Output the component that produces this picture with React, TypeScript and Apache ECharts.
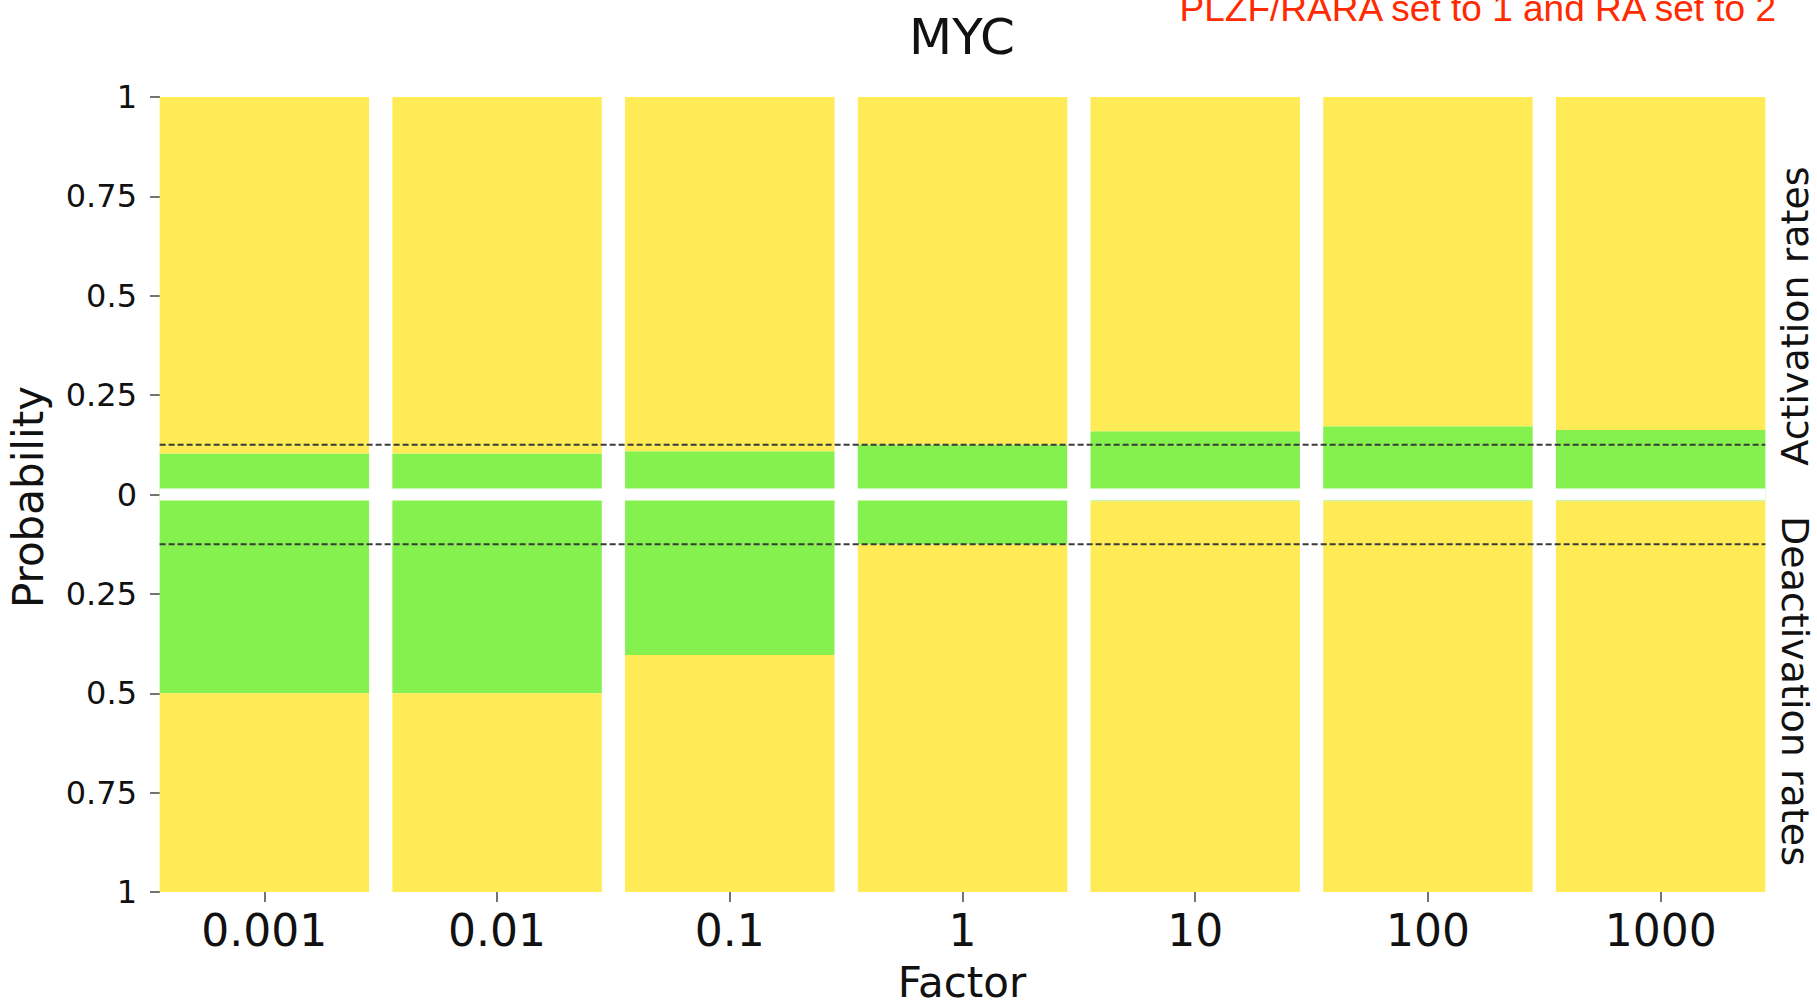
import React, { useEffect, useRef } from "react";
import * as echarts from "echarts";

// ---- data ----
const FACTORS = ["0.001", "0.01", "0.1", "1", "10", "100", "1000"];
const ACTIVATION = [0.103, 0.103, 0.109, 0.126, 0.159, 0.172, 0.162];
const DEACTIVATION = [0.5, 0.5, 0.404, 0.126, 0.017, 0.017, 0.017];
const BASELINE = 0.125;
const Y_TICKS_INTERVAL = 0.25;

const GREEN = "#84f14f";
const YELLOW = "#ffeb55";
const FONT = "DejaVu Sans";

export default function App() {
  const ref = useRef<HTMLDivElement | null>(null);

  useEffect(() => {
    if (!ref.current) return;
    const chart = echarts.init(ref.current, null, { renderer: "svg" });

    // band edges for the helper value axis (categories sit at 0..n-1)
    const BAR_FRAC = 0.9;
    const half = BAR_FRAC / 2;
    const n = FACTORS.length;
    const lineLeft = -half;
    const lineRight = n - 1 + half;

    const barCommon = {
      type: "bar",
      stack: "p",
      barWidth: `${BAR_FRAC * 100}%`,
      silent: true,
      xAxisIndex: 0,
      emphasis: { disabled: true },
    };

    const lineCommon = {
      type: "line",
      xAxisIndex: 1,
      symbol: "none",
      silent: true,
      z: 4,
      emphasis: { disabled: true },
    };

    const option: any = {
      animation: false,
      backgroundColor: "#ffffff",
      grid: {
        left: 148,
        right: 40,
        top: 97,
        bottom: 112,
        containLabel: false,
        outerBoundsMode: "none",
      },
      xAxis: [
        {
          type: "category",
          data: FACTORS,
          axisLine: { show: false, onZero: false },
          splitLine: { show: false },
          axisTick: {
            show: true,
            alignWithLabel: true,
            length: 10,
            lineStyle: { color: "#444", width: 1.5 },
          },
          axisLabel: {
            fontFamily: FONT,
            fontSize: 44,
            color: "#111",
            margin: 16,
          },
        },
        {
          type: "value",
          min: -0.5,
          max: n - 0.5,
          show: false,
          axisLine: { onZero: false },
          splitLine: { show: false },
        },
      ],
      yAxis: {
        type: "value",
        min: -1,
        max: 1,
        interval: Y_TICKS_INTERVAL,
        offset: -12,
        axisLine: { show: false, onZero: false },
        splitLine: { show: false },
        axisTick: {
          show: true,
          length: 10,
          lineStyle: { color: "#444", width: 1.5 },
        },
        axisLabel: {
          formatter: (v: number) => String(Math.abs(+v.toFixed(2))),
          fontFamily: FONT,
          fontSize: 32,
          color: "#111",
          margin: 23,
        },
      },
      series: [
        {
          ...barCommon,
          name: "Activation (green)",
          data: ACTIVATION,
          itemStyle: { color: GREEN },
        },
        {
          ...barCommon,
          name: "Activation (yellow)",
          data: ACTIVATION.map((v) => 1 - v),
          itemStyle: { color: YELLOW },
        },
        {
          ...barCommon,
          name: "Deactivation (green)",
          data: DEACTIVATION.map((v) => -v),
          itemStyle: { color: GREEN },
        },
        {
          ...barCommon,
          name: "Deactivation (yellow)",
          data: DEACTIVATION.map((v) => -(1 - v)),
          itemStyle: { color: YELLOW },
        },
        {
          ...lineCommon,
          name: "gap",
          data: [
            [lineLeft, 0],
            [lineRight, 0],
          ],
          lineStyle: { color: "#ffffff", width: 12, type: "solid" },
        },
        {
          ...lineCommon,
          name: "activation baseline",
          data: [
            [lineLeft, BASELINE],
            [lineRight, BASELINE],
          ],
          lineStyle: { color: "#3a3a3a", width: 2, type: [6, 3] },
        },
        {
          ...lineCommon,
          name: "deactivation baseline",
          data: [
            [lineLeft, -BASELINE],
            [lineRight, -BASELINE],
          ],
          lineStyle: { color: "#3a3a3a", width: 2, type: [6, 3] },
        },
      ],
      graphic: [
        {
          type: "text",
          x: 962,
          y: 37,
          style: {
            text: "MYC",
            font: `50px '${FONT}'`,
            fill: "#111",
            textAlign: "center",
            textVerticalAlign: "middle",
          },
        },
        {
          type: "text",
          x: 1776,
          y: 8,
          style: {
            text: "PLZF/RARA set to 1 and RA set to 2",
            font: "37px 'Liberation Sans'",
            fill: "#ff2a00",
            textAlign: "right",
            textVerticalAlign: "middle",
          },
        },
        {
          type: "text",
          x: 962,
          y: 982,
          style: {
            text: "Factor",
            font: `42px '${FONT}'`,
            fill: "#111",
            textAlign: "center",
            textVerticalAlign: "middle",
          },
        },
        {
          type: "text",
          x: 28,
          y: 497,
          rotation: Math.PI / 2,
          style: {
            text: "Probability",
            font: `42px '${FONT}'`,
            fill: "#111",
            textAlign: "center",
            textVerticalAlign: "middle",
          },
        },
        {
          type: "text",
          x: 1795,
          y: 316,
          rotation: Math.PI / 2,
          style: {
            text: "Activation rates",
            font: `38px '${FONT}'`,
            fill: "#111",
            textAlign: "center",
            textVerticalAlign: "middle",
          },
        },
        {
          type: "text",
          x: 1795,
          y: 691,
          rotation: -Math.PI / 2,
          style: {
            text: "Deactivation rates",
            font: `38px '${FONT}'`,
            fill: "#111",
            textAlign: "center",
            textVerticalAlign: "middle",
          },
        },
      ],
    };

    chart.setOption(option);
    return () => chart.dispose();
  }, []);

  return (
    <div
      ref={ref}
      style={{ position: "absolute", left: 0, top: 0, width: 1817, height: 1004 }}
    />
  );
}
